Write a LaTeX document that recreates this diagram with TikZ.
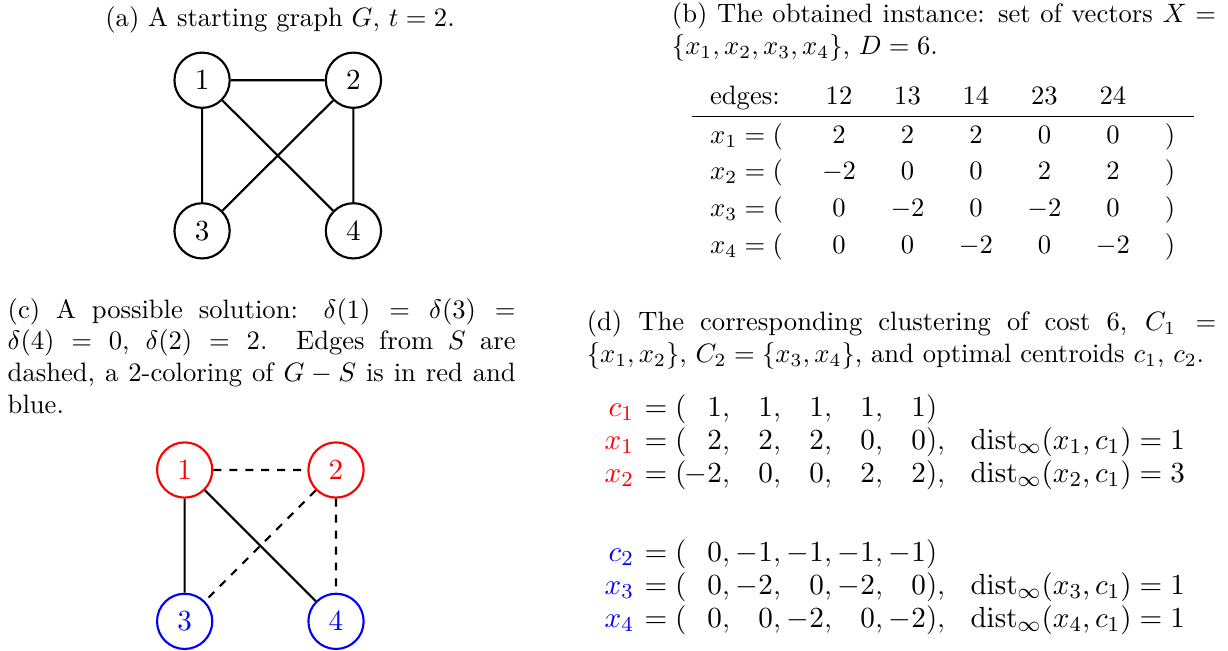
\documentclass[tikz,border=0pt]{standalone}
\usepackage{amsmath, amssymb}
\usepackage{tikz}

\begin{document}
\begin{tikzpicture}[
    vert/.style={circle, draw, thick, minimum size=0.73cm, inner sep=0pt, font=\fontsize{11}{13.2}\selectfont},
    redvert/.style={vert, red},
    bluevert/.style={vert, blue},
    gedge/.style={thick},
    sedge/.style={thick, dashed},
    txt/.style={inner sep=0pt},
    eqtxt/.style={inner sep=0pt, font=\fontsize{11}{13.2}\selectfont}]
    \useasboundingbox (0,0) rectangle (16.226,-8.589);

    % (a) starting graph
    \node[txt, anchor=base] (capa) at (3.70,-0.344) {(a) A starting graph $G$, $t=2$.};
    \node[vert] (a1) at (2.67,-1.06) {$1$};
    \node[vert] (a2) at (4.67,-1.06) {$2$};
    \node[vert] (a3) at (2.67,-3.05) {$3$};
    \node[vert] (a4) at (4.67,-3.05) {$4$};
    \draw[gedge] (a1) -- (a2) (a1) -- (a3) (a1) -- (a4) (a2) -- (a3) (a2) -- (a4);

    % (b) the instance
    \node[txt, anchor=base west, text width=7.188cm, align=justify] (capb) at (8.872,-0.300)
        {(b) The obtained instance: set of vectors $X=\{x_1,x_2,x_3,x_4\}$, $D=6$.};
    \node[txt, anchor=base west] (hdr) at (9.376,-1.387) {edges:};
    \foreach \e [count=\m] in {12,13,14,23,24}
        \node[txt, anchor=base] (h\m) at ({11.086+0.905*(\m-1)},-1.387) {\e};
    \coordinate (rule-l) at (9.146,-1.542);
    \coordinate (rule-r) at (15.777,-1.542);
    \draw (rule-l) -- (rule-r);
    \foreach \vals [count=\n] in {{2,2,2,0,0},{-2,0,0,2,2},{0,-2,0,-2,0},{0,0,-2,0,-2}} {
        \node[txt, anchor=base west] (x\n) at (9.376,{-1.894-0.4843*(\n-1)}) {$x_\n=($};
        \foreach \v [count=\m] in \vals
            \node[txt, anchor=base] (b\n-\m) at ({11.086+0.905*(\m-1)},{-1.894-0.4843*(\n-1)}) {$\v$};
        \node[txt, anchor=base] (rp\n) at (15.46,{-1.894-0.4843*(\n-1)}) {$)$};
    }

    % (c) a solution
    \node[txt, anchor=base west, text width=6.712cm, align=justify] (capc) at (0.095,-4.202)
        {(c) A possible solution: $\delta(1)=\delta(3)=\delta(4)=0$, $\delta(2)=2$. Edges from $S$ are dashed, a 2-coloring of $G-S$ is in red and blue.};
    \node[redvert] (c1) at (2.44,-6.21) {$1$};
    \node[redvert] (c2) at (4.44,-6.21) {$2$};
    \node[bluevert] (c3) at (2.44,-8.21) {$3$};
    \node[bluevert] (c4) at (4.44,-8.21) {$4$};
    \draw[gedge] (c1) -- (c3) (c1) -- (c4);
    \draw[sedge] (c1) -- (c2) (c2) -- (c3) (c2) -- (c4);

    % (d) the clustering
    \node[txt, anchor=base west, text width=8.317cm, align=justify] (capd) at (7.746,-4.370)
        {(d) The corresponding clustering of cost 6, $C_1=\{x_1,x_2\}$, $C_2=\{x_3,x_4\}$, and optimal centroids $c_1$, $c_2$.};
    \foreach \lab/\col/\y/\vals/\cl [count=\n] in {
        c_1/red/-5.497/{1,1,1,1,1}/{)},
        x_1/red/-5.933/{2,2,2,0,0}/{),},
        x_2/red/-6.369/{-2,0,0,2,2}/{),},
        c_2/blue/-7.413/{0,-1,-1,-1,-1}/{)},
        x_3/blue/-7.849/{0,-2,0,-2,0}/{),},
        x_4/blue/-8.285/{0,0,-2,0,-2}/{),}} {
        \node[eqtxt, anchor=base east] (lab\n) at (9.078,\y)
            {\textcolor{\col}{$\lab$}\hspace{4pt}$=$\hspace{3pt}$($};
        \foreach \v [count=\m] in \vals {
            \ifnum\m<5
                \node[eqtxt, anchor=base east] (d\n-\m) at ({9.547+0.6739*(\m-1)},\y) {$\v$\rlap{,}};
            \else
                \node[eqtxt, anchor=base east] (d\n-\m) at ({9.547+0.6739*(\m-1)},\y) {$\v$\rlap{\cl}};
            \fi
        }
    }
    \node[eqtxt, anchor=base west] (dist1) at (12.817,-5.933) {$\mathrm{dist}_\infty(x_1,c_1)=1$};
    \node[eqtxt, anchor=base west] (dist2) at (12.817,-6.369) {$\mathrm{dist}_\infty(x_2,c_1)=3$};
    \node[eqtxt, anchor=base west] (dist3) at (12.817,-7.849) {$\mathrm{dist}_\infty(x_3,c_1)=1$};
    \node[eqtxt, anchor=base west] (dist4) at (12.817,-8.285) {$\mathrm{dist}_\infty(x_4,c_1)=1$};
\end{tikzpicture}
\end{document}
